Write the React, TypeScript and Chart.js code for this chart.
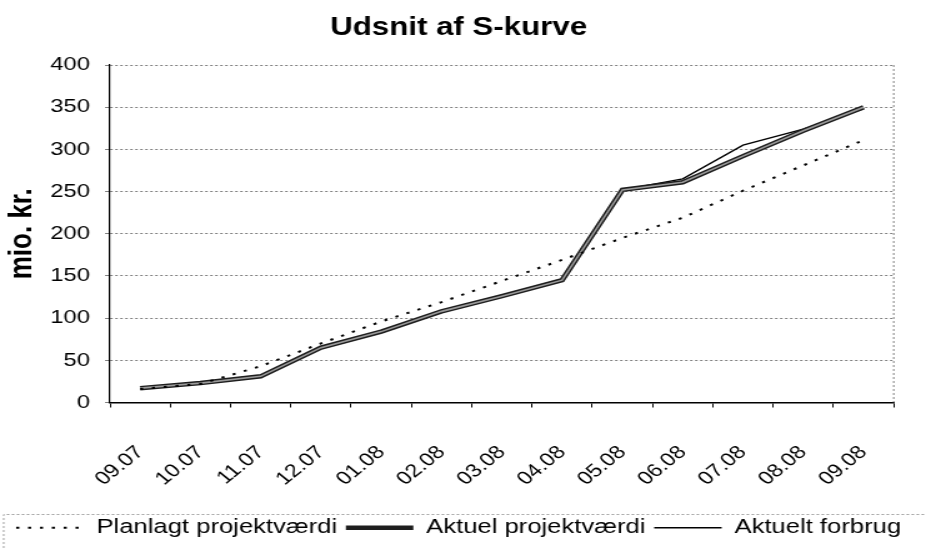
import React, { useEffect, useRef } from 'react';
import { Chart, registerables } from 'chart.js';

Chart.register(...registerables);

// ---- data ----
const months = ['09.07', '10.07', '11.07', '12.07', '01.08', '02.08', '03.08', '04.08', '05.08', '06.08', '07.08', '08.08', '09.08'];
const plannedValue = [16, 22, 43, 70, 96, 119, 144, 169, 195, 219, 251, 281, 311];
const actualValue = [17, 23, 31, 65, 84, 108, 126, 145, 252, 261, 292, 322, 350];
const actualSpend = [17, 23, 31, 65, 84, 108, 126, 145, 252, 265, 305, 324, 348];
const yMin = 0;
const yMax = 400;
const yStep = 50;

const titleText = 'Udsnit af S-kurve';
const yTitleText = 'mio. kr.';
const seriesNames = ['Planlagt projektværdi', 'Aktuel projektværdi', 'Aktuelt forbrug'];

// The reference is horizontally stretched; draw narrower and widen with CSS.
const OUT_W = 926;
const OUT_H = 548;
const STRETCH = 1.25;
const W = Math.round(OUT_W / STRETCH);

const FONT = 'Arial, "Liberation Sans", sans-serif';

export default function App() {
  const ref = useRef<HTMLCanvasElement | null>(null);

  useEffect(() => {
    document.body.style.margin = '0';
    const canvas = ref.current;
    if (!canvas) return;

    const framePlugin = {
      id: 'frame',
      beforeDatasetsDraw(c: any) {
        const { ctx, chartArea: a } = c;
        ctx.save();
        ctx.strokeStyle = '#808080';
        ctx.lineWidth = 1;
        ctx.setLineDash([2, 2]);
        ctx.beginPath();
        ctx.moveTo(a.right, a.top);
        ctx.lineTo(a.right, a.bottom);
        ctx.stroke();
        ctx.restore();
      },
      afterDraw(c: any) {
        const lg = c.legend;
        if (!lg || !lg.legendHitBoxes || !lg.legendHitBoxes.length) return;
        const first = lg.legendHitBoxes[0];
        const { ctx } = c;
        const left = Math.max(first.left - 10, 1);
        const top = lg.top + 4;
        ctx.save();
        ctx.strokeStyle = '#a0a0a0';
        ctx.lineWidth = 1;
        ctx.setLineDash([2, 2]);
        ctx.beginPath();
        ctx.moveTo(left, c.height);
        ctx.lineTo(left, top);
        ctx.lineTo(c.width, top);
        ctx.stroke();
        ctx.restore();
      },
    };

    const chart = new Chart(canvas, {
      type: 'line',
      data: {
        labels: months,
        datasets: [
          {
            label: seriesNames[0],
            data: plannedValue,
            borderColor: '#000',
            borderWidth: 2,
            borderDash: [2.5, 7],
            pointRadius: 0,
            tension: 0,
          },
          {
            label: '_inner',
            data: actualValue,
            borderColor: '#9a9a9a',
            borderWidth: 1.6,
            pointRadius: 0,
            tension: 0,
          },
          {
            label: seriesNames[1],
            data: actualValue,
            borderColor: '#1e1e1e',
            borderWidth: 4.5,
            pointRadius: 0,
            tension: 0,
          },
          {
            label: seriesNames[2],
            data: actualSpend,
            borderColor: '#000',
            borderWidth: 1.4,
            pointRadius: 0,
            tension: 0,
          },
        ],
      },
      options: {
        responsive: false,
        animation: false,
        devicePixelRatio: 1,
        layout: { padding: { left: 0, right: 7, top: 0, bottom: 0 } },
        plugins: {
          tooltip: { enabled: false },
          title: {
            display: true,
            text: titleText,
            color: '#000',
            font: { family: FONT, size: 25, weight: 'bold' },
            padding: { top: 13, bottom: 22 },
          },
          legend: {
            display: true,
            position: 'bottom',
            labels: {
              usePointStyle: true,
              pointStyleWidth: 54,
              padding: 7,
              color: '#000',
              font: { family: FONT, size: 20.5 },
              generateLabels: (c: any) =>
                c.data.datasets
                  .map((ds: any, i: number) => ({
                    text: ds.label,
                    datasetIndex: i,
                    strokeStyle: ds.borderColor,
                    fillStyle: ds.borderColor,
                    lineWidth: ds.borderWidth,
                    lineDash: ds.borderDash || [],
                    pointStyle: 'line',
                    hidden: false,
                    fontColor: '#000',
                  }))
                  .filter((l: any) => !String(l.text).startsWith('_')),
            },
          },
        },
        scales: {
          x: {
            offset: true,
            ticks: {
              autoSkip: false,
              maxRotation: 45,
              minRotation: 45,
              color: '#000',
              font: { family: FONT, size: 18.5 },
              padding: 34,
            },
            grid: {
              display: true,
              offset: true,
              drawOnChartArea: false,
              drawTicks: true,
              tickLength: 5,
              tickColor: '#000',
              color: '#000',
            },
            border: { display: true, color: '#000', width: 1.5 },
            afterFit: (s: any) => {
              s.height = 108;
            },
          },
          y: {
            min: yMin,
            max: yMax,
            ticks: {
              stepSize: yStep,
              color: '#000',
              font: { family: FONT, size: 19 },
              padding: 12,
            },
            grid: {
              color: '#808080',
              lineWidth: 1,
              tickLength: 4,
              tickColor: '#808080',
            },
            border: { display: true, color: '#000', width: 1.2, dash: [2, 2] },
            title: {
              display: true,
              text: yTitleText,
              color: '#000',
              font: { family: FONT, size: 26, weight: 'bold' },
              padding: { top: 2, bottom: 9 },
            },
            afterFit: (s: any) => {
              s.width = 88;
            },
          },
        },
      },
      plugins: [framePlugin],
    } as any);

    return () => chart.destroy();
  }, []);

  return (
    <div style={{ width: OUT_W, height: OUT_H, background: '#fff', overflow: 'hidden' }}>
      <canvas
        ref={ref}
        width={W}
        height={OUT_H}
        style={{ width: OUT_W + 'px', height: OUT_H + 'px', display: 'block' }}
      />
    </div>
  );
}
